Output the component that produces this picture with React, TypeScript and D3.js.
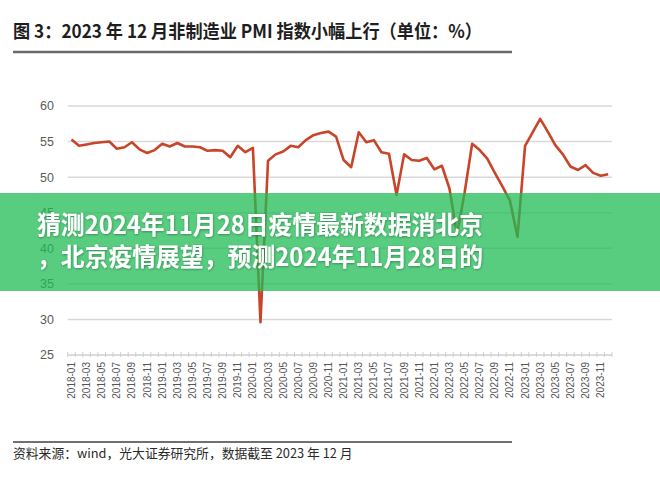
import React from "react";
import * as d3 from "d3";

const titleText = "图 3：2023 年 12 月非制造业 PMI 指数小幅上行（单位：%）";
const sourceText = "资料来源：wind，光大证券研究所，数据截至 2023 年 12 月";
const overlayLines = ["猜测2024年11月28日疫情最新数据消北京", "，北京疫情展望，预测2024年11月28日的"];

const years = ["2018", "2019", "2020", "2021", "2022", "2023"];
const monthNums = ["01", "02", "03", "04", "05", "06", "07", "08", "09", "10", "11", "12"];

const pmi2018 = [55.3, 54.4, 54.6, 54.8, 54.9, 55.0, 54.0, 54.2, 54.9, 53.9, 53.4, 53.8];
const pmi2019 = [54.7, 54.3, 54.8, 54.3, 54.3, 54.2, 53.7, 53.8, 53.7, 52.8, 54.4, 53.5];
const pmi2020 = [54.1, 29.6, 52.3, 53.2, 53.6, 54.4, 54.2, 55.2, 55.9, 56.2, 56.4, 55.7];
const pmi2021 = [52.4, 51.4, 56.3, 54.9, 55.2, 53.5, 53.3, 47.5, 53.2, 52.4, 52.3, 52.7];
const pmi2022 = [51.1, 51.6, 48.4, 41.9, 47.8, 54.7, 53.8, 52.6, 50.6, 48.7, 46.7, 41.6];
const pmi2023 = [54.4, 56.3, 58.2, 56.4, 54.5, 53.2, 51.5, 51.0, 51.7, 50.6, 50.2, 50.4];

const yTicks = [25, 30, 35, 40, 45, 50, 55, 60];

const categories = years.flatMap((y) => monthNums.map((m) => `${y}-${m}`));
const values = [...pmi2018, ...pmi2019, ...pmi2020, ...pmi2021, ...pmi2022, ...pmi2023];
const data = categories.map((c, i) => ({ c, v: values[i] }));

export default function App() {
  const W = 660;
  const H = 484;
  const x = d3.scaleBand<string>().domain(categories).range([67.7, 612]).padding(0);
  const y = d3.scaleLinear().domain([25, 60]).range([355, 106]);
  const line = d3
    .line<{ c: string; v: number }>()
    .x((d) => (x(d.c) as number) + x.bandwidth() / 2)
    .y((d) => y(d.v));

  const boundaries = categories.map((c) => x(c) as number).concat([612]);

  return (
    <svg
      width={W}
      height={H}
      style={{ position: "absolute", left: 0, top: 0, background: "#fff" }}
      fontFamily="'Noto Sans CJK SC', 'Noto Sans', sans-serif"
    >
      <defs>
        <filter id="ts" x="-5%" y="-20%" width="110%" height="140%">
          <feDropShadow dx="0.5" dy="0.8" stdDeviation="0.8" floodColor="#000" floodOpacity="0.35" />
        </filter>
      </defs>
      <rect x={0} y={0} width={W} height={H} fill="#fff" />
      {/* title */}
      <text
        x={13}
        y={38}
        fontSize={18.5}
        fontWeight={600}
        fill="#1e1e1e"
        textLength={469}
        lengthAdjust="spacingAndGlyphs"
      >
        {titleText}
      </text>
      <line x1={13} x2={512} y1={52} y2={52} stroke="#6b6b6b" strokeWidth={2.5} />

      {/* grid */}
      {yTicks.map((t) => (
        <g key={t}>
          <line
            x1={67.7}
            x2={612}
            y1={y(t)}
            y2={y(t)}
            stroke={t === 25 ? "#cfcfcf" : "#d9d9d9"}
            strokeWidth={1.5}
          />
          <text
            x={54}
            y={y(t)}
            dy="0.35em"
            textAnchor="end"
            fontSize={12.5}
            fill="#5a5a5a"
            fontFamily="'Liberation Sans', Arial, sans-serif"
          >
            {t}
          </text>
        </g>
      ))}
      {boundaries.map((bx, i) => (
        <line key={i} x1={bx} x2={bx} y1={352} y2={357} stroke="#cfcfcf" strokeWidth={1} />
      ))}
      {categories.map((c, i) =>
        i % 2 === 0 ? (
          <text
            key={c}
            transform={`translate(${(x(c) as number) + x.bandwidth() / 2},362) rotate(-90)`}
            textAnchor="end"
            dy="0.35em"
            fontSize={10}
            fill="#555"
            fontFamily="'Liberation Sans', Arial, sans-serif"
          >
            {c}
          </text>
        ) : null
      )}

      {/* line */}
      <path d={line(data) || ""} fill="none" stroke="#c8442a" strokeWidth={2.6} strokeLinejoin="round" />

      {/* footer */}
      <line x1={13} x2={512} y1={442} y2={442} stroke="#707070" strokeWidth={2} />
      <text x={13} y={458} fontSize={12.8} fill="#2a2a2a">
        {sourceText}
      </text>

      {/* overlay band */}
      <rect x={0} y={193} width={W} height={98} fill="rgb(32,188,86)" opacity={0.75} />
      {overlayLines.map((t, i) => (
        <text
          key={i}
          x={260}
          y={234 + i * 32}
          textAnchor="middle"
          fontSize={25}
          fontWeight={700}
          fill="#fff"
          textLength={446}
          lengthAdjust="spacingAndGlyphs"
          filter="url(#ts)"
        >
          {t}
        </text>
      ))}
    </svg>
  );
}
